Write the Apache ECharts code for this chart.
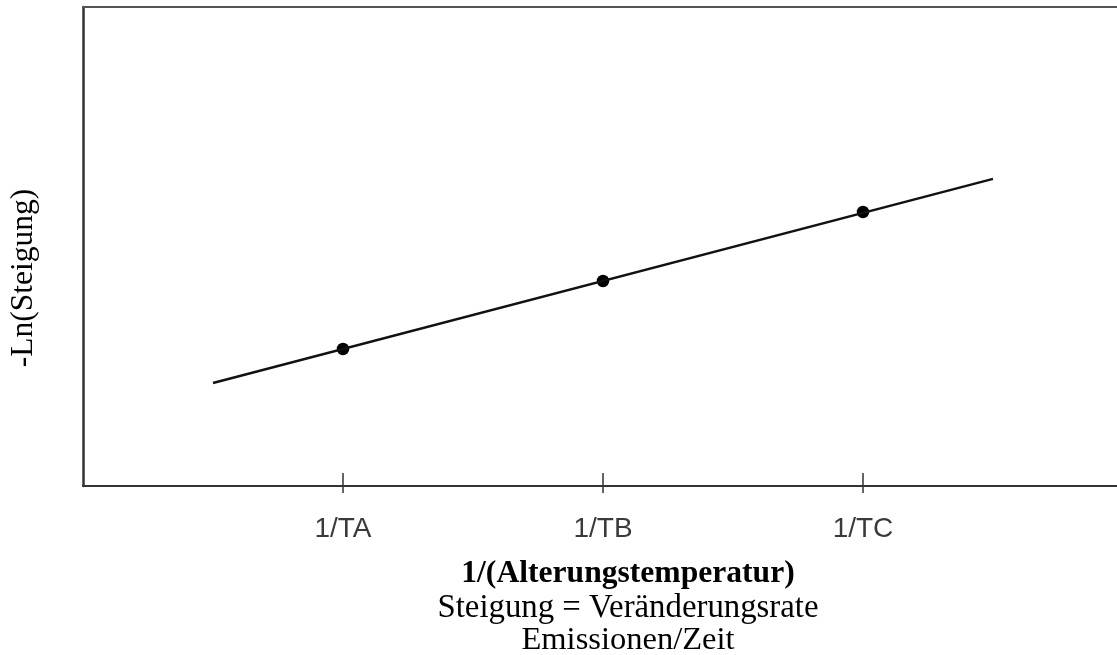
<!DOCTYPE html>
<html>
<head>
<meta charset="utf-8">
<script src="https://cdn.jsdelivr.net/npm/echarts@6/dist/echarts.min.js"></script>
<style>html,body{margin:0;padding:0;background:#fff}#c{width:1117px;height:655px}</style>
</head>
<body>
<div id="c"></div>
<script>
// Data
var tickValues = [1, 2, 3];
var tickLabels = ['1/TA', '1/TB', '1/TC'];
var pointX = [1, 2, 3];
var pointY = [28.6, 42.8, 57.2];
var lineX = [0.5, 3.5];
var lineY = [21.5, 64.1];
var xTitle = '1/(Alterungstemperatur)';
var xSub1 = 'Steigung = Veränderungsrate';
var xSub2 = 'Emissionen/Zeit';
var yTitle = '-Ln(Steigung)';

var serif = "'Liberation Serif', 'Times New Roman', serif";
var chart = echarts.init(document.getElementById('c'), null, {renderer: 'canvas'});
var lbl = function (v) { var i = tickValues.indexOf(v); return i >= 0 ? tickLabels[i] : ''; };
var xMax = (1117 - 83) / 260; // axis runs past the right edge of the picture
chart.setOption({
  animation: false,
  grid: {left: 83, top: 7, right: 0, height: 479, show: false, containLabel: false, outerBoundsMode: 'none'},
  xAxis: [{
    type: 'value', min: 0, max: xMax, position: 'bottom',
    axisLine: {show: true, lineStyle: {color: '#333', width: 2}},
    axisTick: {show: true, inside: false, length: 7, customValues: tickValues, lineStyle: {color: '#333', width: 1.5}},
    axisLabel: {show: true, customValues: tickValues, formatter: lbl, margin: 29, fontFamily: "'Liberation Sans', Arial, sans-serif", fontSize: 28, color: '#3a3a3a'},
    splitLine: {show: false}
  }, {
    type: 'value', min: 0, max: xMax, position: 'bottom', offset: 0,
    axisLine: {show: false},
    axisTick: {show: true, inside: true, length: 13, customValues: tickValues, lineStyle: {color: '#333', width: 1.5}},
    axisLabel: {show: false},
    splitLine: {show: false}
  }, {
    type: 'value', min: 0, max: xMax, position: 'top', offset: 0,
    axisLine: {show: true, lineStyle: {color: '#555', width: 2}},
    axisTick: {show: false}, axisLabel: {show: false}, splitLine: {show: false}
  }],
  yAxis: {
    type: 'value', min: 0, max: 100,
    axisLine: {show: true, lineStyle: {color: '#333', width: 2.5}},
    axisTick: {show: false}, axisLabel: {show: false}, splitLine: {show: false}
  },
  series: [{
    type: 'line', xAxisIndex: 0,
    data: lineX.map(function (x, i) { return [x, lineY[i]]; }),
    showSymbol: false, symbol: 'none',
    lineStyle: {color: '#111', width: 2.4}
  }, {
    type: 'scatter', xAxisIndex: 0,
    data: pointX.map(function (x, i) { return [x, pointY[i]]; }),
    symbol: 'circle', symbolSize: 12.5,
    itemStyle: {color: '#000', opacity: 1}
  }],
  graphic: [
    {type: 'text', x: 628, y: 574, style: {text: xTitle, font: 'bold 31.6px ' + serif, fill: '#000', textAlign: 'center', textVerticalAlign: 'middle'}},
    {type: 'text', x: 628, y: 608, style: {text: xSub1, font: '32.8px ' + serif, fill: '#000', textAlign: 'center', textVerticalAlign: 'middle'}},
    {type: 'text', x: 628, y: 640, style: {text: xSub2, font: '32.5px ' + serif, fill: '#000', textAlign: 'center', textVerticalAlign: 'middle'}},
    {type: 'text', x: 24, y: 278, rotation: Math.PI / 2, style: {text: yTitle, font: '31.5px ' + serif, fill: '#000', textAlign: 'center', textVerticalAlign: 'middle'}}
  ]
});
</script>
</body>
</html>
